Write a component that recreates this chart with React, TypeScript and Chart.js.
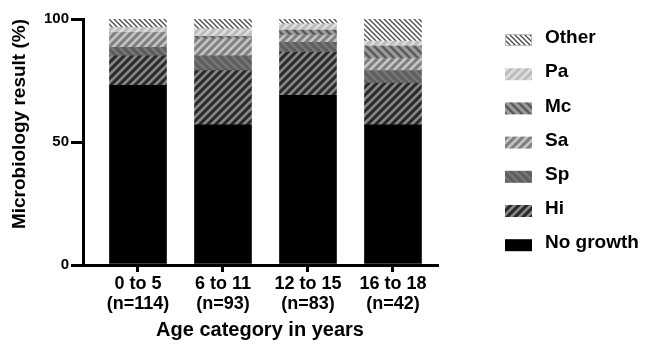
import { useEffect, useRef } from 'react';
import { Chart, registerables } from 'chart.js';

Chart.register(...registerables);

// ---- data ----
const categories: string[][] = [
  ['0 to 5', '(n=114)'],
  ['6 to 11', '(n=93)'],
  ['12 to 15', '(n=83)'],
  ['16 to 18', '(n=42)'],
];
const noGrowth = [73, 57, 69, 57];
const hi = [12, 22, 17.5, 17];
const sp = [3.5, 6, 4, 5];
const sa = [6, 7, 3, 5];
const mc = [0, 1, 2, 5];
const pa = [2, 3, 2.5, 2];
const other = [3.5, 4, 2, 9];
const yTicks = [0, 50, 100];

const FAM = '"Liberation Sans", Arial, sans-serif';

function makePattern(base: string, stripe: string, dir: '/' | '\\', size: number, lw: number) {
  const c = document.createElement('canvas');
  c.width = size;
  c.height = size;
  const ctx = c.getContext('2d')!;
  ctx.fillStyle = base;
  ctx.fillRect(0, 0, size, size);
  ctx.strokeStyle = stripe;
  ctx.lineWidth = lw;
  ctx.lineCap = 'square';
  for (let k = -1; k <= 1; k++) {
    ctx.beginPath();
    if (dir === '/') {
      ctx.moveTo(k * size, size);
      ctx.lineTo(k * size + size, 0);
    } else {
      ctx.moveTo(k * size, 0);
      ctx.lineTo(k * size + size, size);
    }
    ctx.stroke();
  }
  return ctx.createPattern(c, 'repeat')!;
}

export default function App() {
  const ref = useRef<HTMLCanvasElement>(null);

  useEffect(() => {
    document.body.style.margin = '0';
    const series = [
      { label: 'No growth', values: noGrowth, fill: '#000000' as any },
      { label: 'Hi', values: hi, fill: makePattern('#2a2a2a', '#8a8a8a', '/', 8, 2.6) },
      { label: 'Sp', values: sp, fill: makePattern('#5e5e5e', '#767676', '\\', 8, 2.6) },
      { label: 'Sa', values: sa, fill: makePattern('#808080', '#c6c6c6', '/', 8, 2.6) },
      { label: 'Mc', values: mc, fill: makePattern('#9a9a9a', '#5a5a5a', '\\', 8, 2.4) },
      { label: 'Pa', values: pa, fill: makePattern('#bdbdbd', '#dedede', '/', 8, 2.6) },
      { label: 'Other', values: other, fill: makePattern('#ffffff', '#4a4a4a', '\\', 5, 1.3) },
    ];

    const legendPlugin = {
      id: 'sideLegend',
      afterDraw(chart: any) {
        const { ctx, chartArea } = chart;
        const ds = chart.data.datasets;
        ctx.save();
        ctx.font = `bold 19px ${FAM}`;
        ctx.textBaseline = 'middle';
        ctx.textAlign = 'left';
        const bx = chartArea.right + 68;
        for (let j = 0; j < ds.length; j++) {
          const d = ds[ds.length - 1 - j];
          const cy = chartArea.top + 19 + j * 34.2;
          ctx.fillStyle = d.backgroundColor;
          ctx.fillRect(bx, cy - 4, 27, 12);
          if (d.label === 'Other') {
            ctx.strokeStyle = '#bbbbbb';
            ctx.lineWidth = 1;
            ctx.strokeRect(bx + 0.5, cy - 3.5, 26, 11);
          }
          ctx.fillStyle = '#000';
          ctx.fillText(d.label, bx + 40, cy);
        }
        ctx.restore();
      },
    };

    const chart = new Chart(ref.current!, {
      type: 'bar',
      data: {
        datasets: series.map((s) => ({
          label: s.label,
          data: s.values.map((v, i) => ({ x: i, y: v })),
          backgroundColor: s.fill,
          borderWidth: 0,
          stack: 'a',
          barThickness: 57,
        })),
      },
      options: {
        responsive: false,
        animation: false,
        layout: { padding: { top: 19, right: 208, bottom: 0, left: 0 } },
        plugins: { legend: { display: false }, tooltip: { enabled: false } },
        scales: {
          x: {
            type: 'linear',
            offset: false,
            min: -0.647,
            max: 3.518,
            afterBuildTicks: (s: any) => {
              s.ticks = categories.map((_, i) => ({ value: i }));
            },
            afterFit: (s: any) => {
              s.height = 79;
            },
            ticks: {
              callback: (v: any) => categories[v] ?? '',
              font: { family: FAM, size: 18, weight: 'bold', lineHeight: 1.1 },
              color: '#000',
              padding: 2,
              maxRotation: 0,
              autoSkip: false,
            },
            grid: { offset: false, drawOnChartArea: false, drawTicks: true, tickLength: 7, color: '#000', lineWidth: 3 },
            border: { display: true, color: '#000', width: 3 },
            title: {
              display: true,
              text: 'Age category in years',
              color: '#000',
              font: { family: FAM, size: 20, weight: 'bold', lineHeight: 1.2 },
              padding: { top: 0, bottom: 2 },
            },
          },
          y: {
            stacked: true,
            min: 0,
            max: 100,
            afterBuildTicks: (s: any) => {
              s.ticks = yTicks.map((v) => ({ value: v }));
            },
            afterFit: (s: any) => {
              s.width = 83;
            },
            ticks: {
              font: { family: FAM, size: 15, weight: 'bold' },
              color: '#000',
              padding: 2,
            },
            grid: { drawOnChartArea: false, drawTicks: true, tickLength: 12, color: '#000', lineWidth: 3 },
            border: { display: true, color: '#000', width: 3 },
            title: {
              display: true,
              text: 'Microbiology result (%)',
              align: 'end',
              color: '#000',
              font: { family: FAM, size: 19, weight: 'bold', lineHeight: 1.2 },
              padding: { top: 8, bottom: 0 },
            },
          },
        },
      } as any,
      plugins: [legendPlugin],
    });
    return () => chart.destroy();
  }, []);

  return (
    <div style={{ width: 645, height: 344, background: '#fff' }}>
      <canvas ref={ref} width={645} height={344} style={{ display: 'block' }} />
    </div>
  );
}
